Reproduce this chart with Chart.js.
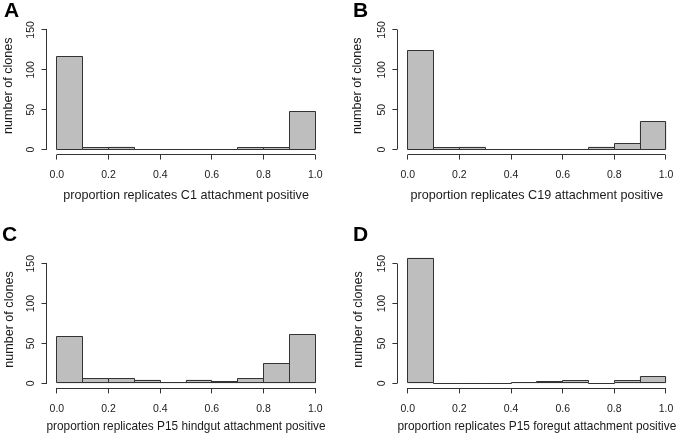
<!DOCTYPE html>
<html>
<head>
<meta charset="utf-8">
<script src="https://cdn.jsdelivr.net/npm/chart.js@4.4.1/dist/chart.umd.min.js"></script>
<style>
  html, body { margin: 0; padding: 0; background: #fff; }
  #fig { position: relative; width: 685px; height: 436px; overflow: hidden; }
  .panel { position: absolute; }
  .panel canvas { display: block; }
  .tag { position: absolute; font: bold 21px/21px 'Liberation Sans', Arial, sans-serif; color: #000; }
</style>
</head>
<body>
<div id="fig">
  <div class="panel" style="left:0;top:0"><canvas id="histA" width="342" height="218"></canvas></div>
  <div class="panel" style="left:342px;top:0"><canvas id="histB" width="343" height="218"></canvas></div>
  <div class="panel" style="left:0;top:218px"><canvas id="histC" width="342" height="218"></canvas></div>
  <div class="panel" style="left:342px;top:218px"><canvas id="histD" width="343" height="218"></canvas></div>
  <div class="tag" style="left:4px;top:-1px">A</div>
  <div class="tag" style="left:353px;top:-1px">B</div>
  <div class="tag" style="left:2px;top:223px">C</div>
  <div class="tag" style="left:353px;top:223px">D</div>
</div>
<script>
// histogram bins (proportion of replicates), 0.1 wide
const binCenters = [0.05, 0.15, 0.25, 0.35, 0.45, 0.55, 0.65, 0.75, 0.85, 0.95];

// number of clones per bin
const countsC1 = [117, 2, 3, 0, 0, 0, 0, 2, 2, 48];
const countsC19 = [124, 2, 3, 0, 0, 0, 0, 3, 7, 35];
const countsP15Hindgut = [59, 6, 6, 4, 1, 4, 2, 6, 25, 61];
const countsP15Foregut = [157, 0, 0, 0, 1, 2, 3, 0, 3, 8];

const xTicks = [0, 0.2, 0.4, 0.6, 0.8, 1.0];
const yTicks = [0, 50, 100, 150];
const xTitles = [
  'proportion replicates C1 attachment positive',
  'proportion replicates C19 attachment positive',
  'proportion replicates P15 hindgut attachment positive',
  'proportion replicates P15 foregut attachment positive'
];
const yTitle = 'number of clones';

Chart.defaults.font.family = "'Liberation Sans', Arial, sans-serif";
Chart.defaults.color = '#1a1a1a';

const LINE = '#333333';
const FILL = '#bebebe';
const PX_PER_COUNT = 0.797;

// R-style outlines: every bin rect stroked (empty bins become a flat line),
// axes drawn only over the tick range
const rAxes = {
  id: 'rAxes',
  afterDatasetsDraw(chart) {
    const { ctx, chartArea, scales: { x, y } } = chart;
    const al = v => Math.round(v - 0.5) + 0.5;
    ctx.save();
    ctx.strokeStyle = LINE;
    ctx.lineWidth = 1;
    ctx.beginPath();
    chart.getDatasetMeta(0).data.forEach(bar => {
      const l = al(bar.x - bar.width / 2);
      const r = al(bar.x + bar.width / 2);
      const t = al(bar.y);
      const b = al(bar.base);
      ctx.moveTo(l, b); ctx.lineTo(l, t); ctx.lineTo(r, t); ctx.lineTo(r, b); ctx.lineTo(l, b);
    });
    const x0 = al(x.getPixelForValue(xTicks[0]));
    const x1 = al(x.getPixelForValue(xTicks[xTicks.length - 1]));
    const y0 = al(y.getPixelForValue(yTicks[0]));
    const y1 = al(y.getPixelForValue(yTicks[yTicks.length - 1]));
    ctx.moveTo(x0, al(chartArea.bottom)); ctx.lineTo(x1, al(chartArea.bottom));
    ctx.moveTo(al(chartArea.left), y0); ctx.lineTo(al(chartArea.left), y1);
    ctx.stroke();
    ctx.restore();
  }
};

function drawHist(canvasId, counts, xTitle, geo) {
  const top = geo.zero - 166.4 * PX_PER_COUNT;
  const bottom = geo.zero + 6.4 * PX_PER_COUNT;
  const h = 218;

  new Chart(document.getElementById(canvasId), {
    type: 'bar',
    data: {
      datasets: [{
        data: binCenters.map((x, i) => ({ x, y: counts[i] })),
        backgroundColor: FILL,
        borderWidth: 0,
        barPercentage: 1,
        categoryPercentage: 1
      }]
    },
    options: {
      responsive: false,
      animation: false,
      events: [],
      layout: { padding: { left: 0, top, right: geo.w - geo.right, bottom: 0 } },
      plugins: { legend: { display: false }, tooltip: { enabled: false } },
      scales: {
        x: {
          type: 'linear',
          offset: false,
          min: -0.04,
          max: 1.04,
          afterBuildTicks: s => { s.ticks = xTicks.map(value => ({ value })); },
          afterFit: s => { s.height = h - bottom; },
          border: { display: false },
          grid: { drawOnChartArea: false, drawTicks: true, tickLength: 5, color: LINE, offset: false },
          ticks: {
            padding: 9,
            maxRotation: 0,
            autoSkip: false,
            font: { size: 10.5 },
            callback: v => v.toFixed(1)
          },
          title: {
            display: true,
            text: xTitle,
            font: { size: 12.6 },
            padding: { top: 0, bottom: geo.xTitlePad }
          }
        },
        y: {
          min: -6.4,
          max: 166.4,
          afterBuildTicks: s => { s.ticks = yTicks.map(value => ({ value })); },
          afterFit: s => { s.width = geo.left; },
          border: { display: false },
          grid: { drawOnChartArea: false, drawTicks: true, tickLength: 5, color: LINE },
          ticks: {
            padding: 2,
            minRotation: 90,
            maxRotation: 90,
            crossAlign: 'center',
            font: { size: 10.5 }
          },
          title: {
            display: true,
            text: yTitle,
            font: { size: 12.6 },
            padding: { top: geo.yTitlePad, bottom: 0 }
          }
        }
      }
    },
    plugins: [rAxes]
  });
}

drawHist('histA', countsC1, xTitles[0], { w: 342, left: 46.5, right: 325.6, zero: 149.5, xTitlePad: 14.7, yTitlePad: 0.5 });
drawHist('histB', countsC19, xTitles[1], { w: 343, left: 55.4, right: 334.3, zero: 149.5, xTitlePad: 14.7, yTitlePad: 7.5 });
drawHist('histC', countsP15Hindgut, xTitles[2], { w: 342, left: 46.5, right: 325.6, zero: 165.3, xTitlePad: 2.1, yTitlePad: 1.5 });
drawHist('histD', countsP15Foregut, xTitles[3], { w: 343, left: 55.4, right: 334.3, zero: 165.3, xTitlePad: 2.1, yTitlePad: 8.5 });
</script>
</body>
</html>
